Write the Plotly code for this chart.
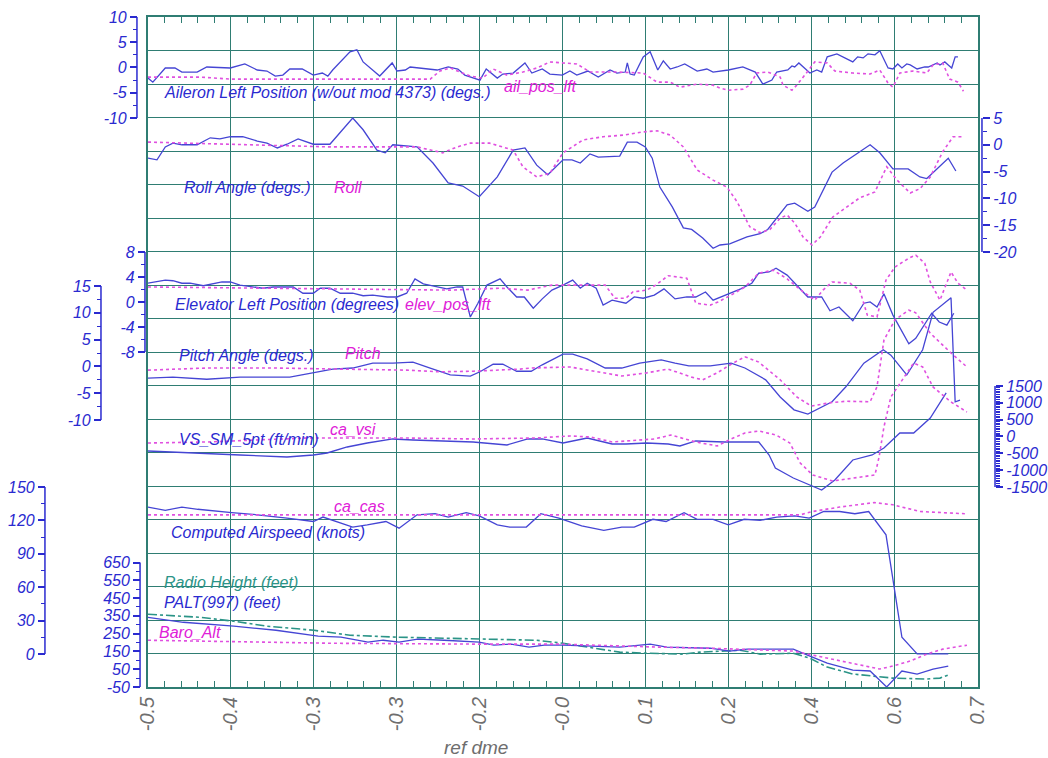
import plotly.graph_objects as go

FONT = "Arial, Liberation Sans, sans-serif"
BLUE = "#4545d4"
PINK = "#e050e0"
TEAL = "#2b9487"
AXIS_BLUE = "#2a2ad0"
GRID = "#2f7d73"

# x axis: ref dme (tick text as printed on the chart)
x_ticks = [-0.5, -0.38, -0.26, -0.14, -0.02, 0.10, 0.22, 0.34, 0.46, 0.58, 0.70]
x_labels = ["-0.5", "-0.4", "-0.3", "-0.3", "-0.2", "-0.0", "0.1", "0.2", "0.4", "0.6", "0.7"]

# (ref dme, value) pairs
aileron_left = [(-0.500, -2.1), (-0.493, -2.9), (-0.475, -0.1), (-0.461, -0.1), (-0.451, -0.9), (-0.429, -0.9),
                (-0.415, 0.1), (-0.381, -0.1), (-0.360, 0.7), (-0.342, -0.5), (-0.328, -0.7), (-0.316, -1.7),
                (-0.305, -1.5), (-0.295, -0.3), (-0.277, -0.3), (-0.261, -1.5), (-0.248, -1.1), (-0.240, -1.7),
                (-0.233, -0.5), (-0.208, 3.1), (-0.198, 3.5), (-0.189, 1.1), (-0.165, -1.7), (-0.147, 0.9),
                (-0.140, -0.7), (-0.128, -0.5), (-0.121, 0.1), (-0.104, -0.1), (-0.082, -0.5), (-0.066, 0.1),
                (-0.052, -0.3), (-0.042, -1.5), (-0.020, -2.5), (-0.011, -0.3), (0.005, -2.1), (0.013, -1.3),
                (0.028, -1.1), (0.045, 0.9), (0.055, -1.1), (0.070, -0.3), (0.081, -1.3), (0.099, -1.5),
                (0.110, -0.7), (0.120, -1.5), (0.136, -0.7), (0.151, -1.9), (0.168, -0.5), (0.178, -1.1),
                (0.190, -0.9), (0.193, 0.9), (0.197, -1.3), (0.203, -1.5), (0.216, 2.1), (0.226, 3.1),
                (0.237, -0.5), (0.245, 1.3), (0.255, -0.3), (0.265, 0.1), (0.276, 0.7), (0.294, -0.7),
                (0.308, -0.3), (0.317, -0.9), (0.339, -0.5), (0.360, 0.1), (0.378, -0.9), (0.389, -3.3),
                (0.402, -2.5), (0.409, -0.9), (0.425, -0.5), (0.431, 0.3), (0.435, 0.1), (0.441, 0.9),
                (0.457, -1.1), (0.467, -0.5), (0.474, -0.9), (0.482, 2.1), (0.496, 2.7), (0.519, 1.1),
                (0.526, 2.1), (0.534, 1.9), (0.541, 2.7), (0.551, 2.5), (0.558, 3.3), (0.570, -0.1),
                (0.577, -0.3), (0.584, 0.7), (0.590, -0.1), (0.597, 0.7), (0.602, 0.5), (0.612, -0.3),
                (0.623, 0.1), (0.628, 0.1), (0.641, 0.9), (0.645, 0.5), (0.652, 1.1), (0.657, 0.5),
                (0.662, -0.1), (0.667, 2.1), (0.671, 2.1)]
ail_pos_lft = [(-0.500, -1.9), (-0.425, -1.9), (-0.381, -2.3), (-0.208, -2.3), (-0.092, -2.3), (-0.078, -0.7),
               (-0.063, -0.1), (-0.049, -0.9), (-0.034, -1.7), (-0.016, -2.1), (-0.001, -0.3), (0.019, -1.5),
               (0.042, -0.9), (0.062, -0.1), (0.081, 1.1), (0.100, 0.9), (0.120, 0.7), (0.139, -0.9),
               (0.178, -0.9), (0.216, -1.1), (0.236, -2.9), (0.255, -2.9), (0.269, -3.9), (0.294, -3.3),
               (0.317, -3.5), (0.327, -4.1), (0.339, -4.5), (0.360, -4.3), (0.370, -3.5), (0.380, -1.1),
               (0.396, -0.9), (0.414, -1.9), (0.418, -3.5), (0.431, -4.5), (0.438, -3.5), (0.453, -0.9),
               (0.464, 1.1), (0.482, 0.9), (0.493, -0.7), (0.519, -1.1), (0.544, -1.3), (0.558, -0.5),
               (0.570, -3.1), (0.577, -3.9), (0.587, -1.1), (0.606, -0.7), (0.626, -1.1), (0.635, 0.5),
               (0.649, 0.9), (0.659, -2.3), (0.671, -2.9), (0.679, -4.7)]

roll_angle = [(-0.500, -2.5), (-0.487, -2.8), (-0.475, -0.4), (-0.464, 0.3), (-0.451, 0.0), (-0.429, 0.0),
              (-0.410, 1.3), (-0.396, 1.1), (-0.381, 1.5), (-0.363, 1.5), (-0.342, 0.7), (-0.328, 0.3),
              (-0.313, -0.6), (-0.299, 0.1), (-0.283, 1.1), (-0.261, 0.1), (-0.237, 0.1), (-0.204, 5.0),
              (-0.189, 2.8), (-0.169, -1.0), (-0.157, -1.5), (-0.146, 0.0), (-0.111, -0.4), (-0.088, -3.4),
              (-0.066, -7.1), (-0.045, -7.7), (-0.021, -9.7), (0.005, -6.0), (0.028, -1.0), (0.045, -0.6),
              (0.062, -3.8), (0.078, -5.6), (0.100, -2.8), (0.113, -2.8), (0.125, -3.4), (0.139, -1.7),
              (0.151, -2.3), (0.182, -2.1), (0.193, 0.5), (0.207, 0.5), (0.219, -0.4), (0.229, -2.5),
              (0.240, -7.9), (0.258, -11.6), (0.274, -15.5), (0.286, -15.8), (0.302, -17.4), (0.317, -19.3),
              (0.327, -18.7), (0.341, -18.5), (0.366, -17.2), (0.385, -16.6), (0.396, -15.8), (0.409, -13.7),
              (0.424, -11.2), (0.435, -10.9), (0.454, -12.4), (0.464, -11.6), (0.476, -8.4), (0.489, -5.1),
              (0.505, -3.4), (0.525, -1.7), (0.544, 0.0), (0.558, -1.5), (0.577, -4.5), (0.599, -4.5),
              (0.616, -6.0), (0.626, -6.3), (0.642, -4.3), (0.657, -2.5), (0.668, -4.9)]
roll = [(-0.500, 0.5), (-0.237, -0.4), (-0.111, -0.4), (-0.074, -1.5), (-0.053, -0.4), (-0.034, 0.3),
        (-0.006, 0.3), (0.013, -0.4), (0.028, -1.0), (0.042, -4.1), (0.062, -6.0), (0.081, -5.3),
        (0.100, -1.5), (0.129, 0.9), (0.158, 1.5), (0.187, 1.8), (0.216, 2.4), (0.236, 2.6),
        (0.255, 1.8), (0.274, -0.4), (0.294, -4.7), (0.317, -6.6), (0.337, -7.9), (0.352, -10.7),
        (0.370, -15.3), (0.385, -16.4), (0.399, -15.8), (0.414, -13.7), (0.424, -13.1), (0.435, -14.6),
        (0.447, -17.2), (0.460, -18.7), (0.472, -17.2), (0.490, -13.5), (0.511, -11.6), (0.529, -9.9),
        (0.551, -8.8), (0.561, -6.0), (0.568, -4.1), (0.583, -6.6), (0.602, -9.0), (0.616, -8.2),
        (0.631, -6.0), (0.649, -1.3), (0.664, 1.5), (0.679, 1.5)]

elevator_left = [(-0.500, 3.0), (-0.475, 3.5), (-0.464, 3.4), (-0.451, 3.0), (-0.439, 3.0), (-0.420, 2.6),
                 (-0.393, 3.2), (-0.381, 3.2), (-0.367, 2.7), (-0.334, 2.2), (-0.319, 2.4), (-0.290, 2.4),
                 (-0.276, 1.4), (-0.261, 1.4), (-0.251, 2.2), (-0.237, 2.2), (-0.222, 1.4), (-0.204, 1.4),
                 (-0.189, 1.0), (-0.175, 1.1), (-0.154, 0.8), (-0.140, 0.8), (-0.126, 1.4), (-0.114, 3.7),
                 (-0.102, 2.9), (-0.082, 2.4), (-0.068, 2.1), (-0.053, 2.4), (-0.045, 2.4), (-0.034, -2.4),
                 (-0.023, -0.2), (-0.010, 2.7), (0.009, 3.7), (0.019, 2.4), (0.033, 0.8), (0.044, 0.8),
                 (0.057, -1.0), (0.070, 0.5), (0.084, 1.9), (0.100, 2.7), (0.114, 3.5), (0.125, 2.2),
                 (0.135, 3.0), (0.148, 2.2), (0.158, -0.5), (0.171, 0.3), (0.191, -0.2), (0.203, 0.8),
                 (0.216, 0.6), (0.232, 1.1), (0.246, 2.1), (0.262, 0.5), (0.279, 0.8), (0.292, 0.8),
                 (0.306, 1.6), (0.317, 0.3), (0.340, 1.4), (0.357, 2.1), (0.373, 3.0), (0.383, 4.6),
                 (0.398, 4.8), (0.408, 5.4), (0.424, 4.3), (0.435, 3.0), (0.454, 0.8), (0.474, 0.8),
                 (0.486, -1.4), (0.499, -0.8), (0.519, -3.0), (0.535, -0.2), (0.544, 0.0), (0.554, -0.8),
                 (0.564, 1.3), (0.577, -2.1), (0.600, -6.7), (0.610, -5.8), (0.633, -1.8), (0.644, -3.2),
                 (0.655, -3.7), (0.665, -1.8)]
elev_pos_lft = [(-0.500, 2.4), (-0.063, 1.9), (0.009, 2.2), (0.049, 1.9), (0.084, 2.7), (0.161, 2.7),
                (0.175, 0.6), (0.191, 0.6), (0.201, 1.6), (0.221, 1.9), (0.234, 2.7), (0.252, 4.2),
                (0.279, 3.8), (0.292, -0.2), (0.313, -0.5), (0.324, 0.0), (0.343, 1.1), (0.363, 2.4),
                (0.383, 4.6), (0.404, 5.1), (0.424, 3.7), (0.444, 1.9), (0.464, 0.3), (0.476, 1.9),
                (0.489, 3.2), (0.515, 3.0), (0.529, 1.9), (0.540, -2.1), (0.554, -2.4), (0.567, 3.5),
                (0.580, 5.6), (0.600, 7.0), (0.610, 7.5), (0.623, 6.2), (0.631, 3.2), (0.645, 0.3),
                (0.661, 4.8), (0.671, 3.0), (0.684, 1.9)]

pitch_angle = [(-0.500, -2.2), (-0.464, -2.0), (-0.415, -2.4), (-0.367, -2.0), (-0.295, -2.0), (-0.261, -1.2),
               (-0.233, -0.5), (-0.204, -0.3), (-0.175, 0.6), (-0.146, 0.6), (-0.117, 0.8), (-0.092, -0.3),
               (-0.063, -1.6), (-0.034, -1.8), (-0.020, -1.0), (-0.001, 0.4), (0.013, 0.4), (0.033, -0.9),
               (0.054, -0.9), (0.070, 0.3), (0.100, 2.3), (0.114, 2.3), (0.135, 1.4), (0.161, -0.3),
               (0.185, -0.3), (0.211, 0.6), (0.242, 1.2), (0.262, 0.6), (0.282, 0.1), (0.313, 0.1),
               (0.343, 0.6), (0.363, -0.3), (0.393, -2.5), (0.414, -5.7), (0.434, -8.1), (0.454, -8.9),
               (0.489, -6.6), (0.509, -3.8), (0.535, 0.6), (0.563, 3.1), (0.574, 2.1), (0.597, -1.6),
               (0.620, 3.1), (0.635, 10.1), (0.661, 12.8), (0.667, -6.6), (0.674, -6.3)]
pitch = [(-0.500, -0.7), (-0.415, -0.3), (-0.319, -0.3), (-0.222, -0.5), (-0.126, -0.7), (-0.078, -1.0),
         (-0.030, -0.9), (0.038, -0.5), (0.054, -0.3), (0.110, -0.1), (0.151, -1.0), (0.185, -1.8),
         (0.221, -1.2), (0.252, -0.5), (0.286, -2.0), (0.302, -2.5), (0.323, -1.2), (0.343, 0.4),
         (0.363, 1.8), (0.383, 0.8), (0.414, -2.5), (0.438, -5.7), (0.459, -7.4), (0.485, -6.8),
         (0.509, -6.5), (0.544, -6.6), (0.554, -3.8), (0.564, 4.9), (0.580, 8.7), (0.600, 10.5),
         (0.610, 10.0), (0.631, 6.2), (0.661, 2.5), (0.684, -0.1)]

vs_sm_5pt = [(-0.500, -431), (-0.464, -460), (-0.415, -490), (-0.367, -549), (-0.299, -609), (-0.261, -549),
             (-0.241, -490), (-0.212, -312), (-0.183, -193), (-0.146, -74), (-0.117, -104), (-0.078, -134),
             (-0.030, -163), (0.019, -252), (0.038, -134), (0.049, -74), (0.070, -74), (0.100, -193),
             (0.135, -45), (0.171, -223), (0.191, -223), (0.221, -193), (0.252, -223), (0.269, -282),
             (0.292, -134), (0.333, -163), (0.383, -163), (0.398, -549), (0.407, -936), (0.433, -1233),
             (0.474, -1589), (0.493, -1292), (0.519, -698), (0.547, -549), (0.564, -342), (0.587, 104),
             (0.607, 104), (0.631, 549), (0.654, 1292)]
ca_vsi = [(-0.500, -193), (-0.415, -163), (-0.270, -45), (-0.126, -45), (-0.030, -74), (0.060, -45),
          (0.110, 15), (0.140, -15), (0.171, -163), (0.232, -74), (0.256, 45), (0.292, -163),
          (0.323, -282), (0.343, -74), (0.363, 104), (0.383, 163), (0.408, 45), (0.428, -193),
          (0.443, -787), (0.461, -1143), (0.490, -1322), (0.551, -1143), (0.557, -609), (0.564, 282),
          (0.574, 1173), (0.590, 1678), (0.607, 2183), (0.620, 2064), (0.635, 1470), (0.661, 1025),
          (0.684, 728)]

computed_airspeed = [(-0.500, 132), (-0.475, 129), (-0.451, 132), (-0.428, 130), (-0.379, 127), (-0.342, 125),
                     (-0.299, 122), (-0.261, 119), (-0.247, 123), (-0.227, 119), (-0.204, 114), (-0.183, 116),
                     (-0.156, 119), (-0.137, 113), (-0.111, 125), (-0.085, 126), (-0.066, 123), (-0.040, 127),
                     (-0.021, 124), (0.005, 116), (0.023, 114), (0.047, 114), (0.068, 126), (0.094, 122),
                     (0.127, 115), (0.159, 111), (0.185, 114), (0.203, 114), (0.230, 121), (0.249, 119),
                     (0.275, 127), (0.294, 121), (0.317, 121), (0.339, 116), (0.362, 121), (0.385, 120),
                     (0.409, 123), (0.435, 124), (0.456, 122), (0.477, 128), (0.500, 128), (0.522, 126),
                     (0.542, 128), (0.567, 107), (0.579, 61), (0.590, 15), (0.612, 0), (0.657, 0)]
ca_cas = [(-0.500, 125), (0.443, 125), (0.461, 128), (0.500, 132), (0.550, 136), (0.577, 134),
          (0.616, 128), (0.645, 127), (0.681, 126)]

radio_height = [(-0.500, 359), (-0.425, 342), (-0.376, 320), (-0.328, 292), (-0.260, 269), (-0.208, 241),
                (-0.137, 230), (-0.016, 219), (0.061, 213), (0.100, 196), (0.182, 146), (0.221, 140),
                (0.272, 135), (0.298, 146), (0.356, 157), (0.385, 135), (0.433, 140), (0.457, 112),
                (0.482, 62), (0.519, 23), (0.544, 12), (0.577, 0), (0.626, -5), (0.645, 0), (0.657, 17)]
palt_997 = [(-0.500, 342), (-0.449, 314), (-0.376, 292), (-0.315, 269), (-0.254, 236), (-0.221, 230),
            (-0.182, 202), (-0.160, 213), (-0.137, 202), (-0.110, 219), (-0.072, 213), (-0.021, 202),
            (0.000, 185), (0.025, 191), (0.051, 174), (0.073, 185), (0.100, 185), (0.143, 180),
            (0.182, 174), (0.226, 191), (0.250, 174), (0.313, 168), (0.341, 152), (0.366, 163),
            (0.433, 163), (0.457, 124), (0.482, 84), (0.519, 45), (0.544, 40), (0.568, -50),
            (0.590, 40), (0.612, 23), (0.635, 51), (0.657, 68)]
baro_alt = [(-0.500, 213), (-0.237, 196), (-0.016, 191), (0.096, 191), (0.240, 174), (0.313, 168),
            (0.433, 152), (0.461, 129), (0.505, 96), (0.558, 51), (0.577, 68), (0.602, 96),
            (0.626, 135), (0.649, 163), (0.684, 185)]


def band_range(lo, hi, f0, f1):
    # the labelled part of each axis covers only band [f0, f1] of the plot height
    span = (hi - lo) / (f1 - f0)
    return [lo - f0 * span, hi + (1 - f1) * span]


# name, lo, hi, band bottom, band top, x position, side, major step, minor step
axes = [
    ("y2", -10, 10, 0.8493, 1.0, 0.1235, "left", 5, 2.5),
    ("y3", -20, 5, 0.6493, 0.8493, 0.9455, "right", 5, 2.5),
    ("y4", -8, 8, 0.5, 0.6493, 0.1313, "left", 4, 2),
    ("y5", -10, 15, 0.3985, 0.5985, 0.0885, "left", 5, 2.5),
    ("y6", -1500, 1500, 0.2985, 0.4493, 0.9582, "right", 500, 50),
    ("y7", 0, 150, 0.0493, 0.2985, 0.0340, "left", 30, 15),
    ("y8", -50, 650, 0.0, 0.1858, 0.1265, "left", 100, 50),
]

series = [
    (aileron_left, "y2", BLUE, "solid"), (ail_pos_lft, "y2", PINK, "dot"),
    (roll_angle, "y3", BLUE, "solid"), (roll, "y3", PINK, "dot"),
    (elevator_left, "y4", BLUE, "solid"), (elev_pos_lft, "y4", PINK, "dot"),
    (pitch_angle, "y5", BLUE, "solid"), (pitch, "y5", PINK, "dot"),
    (vs_sm_5pt, "y6", BLUE, "solid"), (ca_vsi, "y6", PINK, "dot"),
    (computed_airspeed, "y7", BLUE, "solid"), (ca_cas, "y7", PINK, "dot"),
    (radio_height, "y8", TEAL, "dashdot"), (palt_997, "y8", BLUE, "solid"), (baro_alt, "y8", PINK, "dot"),
]

fig = go.Figure()
# empty trace so the grid axis 'y' gets its own subplot (the others overlay it)
fig.add_trace(go.Scatter(x=[None], y=[None], xaxis="x", yaxis="y", mode="lines", hoverinfo="skip"))
for pts, ax, color, dash in series:
    xs, ys = zip(*pts)
    fig.add_trace(go.Scatter(x=xs, y=ys, xaxis="x", yaxis=ax, mode="lines", hoverinfo="skip",
                             line=dict(color=color, width=1.3 if dash == "solid" else 1.6, dash=dash)))

layout_axes = {}
shapes = []
for name, lo, hi, f0, f1, pos, side, major, minor in axes:
    n = int(round((hi - lo) / major))
    vals = [lo + i * major for i in range(n + 1)]
    m = int(round((hi - lo) / minor))
    minors = [lo + i * minor for i in range(m + 1)]
    minors = [v for v in minors if abs(((v - lo) / major) - round((v - lo) / major)) > 1e-6]
    layout_axes["yaxis" + name[1:]] = dict(
        overlaying="y", anchor="free", position=pos, side=side,
        range=band_range(lo, hi, f0, f1),
        tickmode="array", tickvals=vals, ticktext=[f"{v:g}" for v in vals],
        ticks="outside", ticklen=7, tickwidth=1.5, tickcolor=AXIS_BLUE,
        tickfont=dict(family=FONT, size=16, color=AXIS_BLUE, style="italic"),
        minor=dict(tickmode="array", tickvals=minors, ticks="outside", ticklen=4,
                   tickwidth=1, tickcolor=AXIS_BLUE),
        showgrid=False, zeroline=False, showline=False,
    )
    shapes.append(dict(type="line", xref="paper", yref=name, x0=pos, x1=pos, y0=lo, y1=hi,
                       line=dict(color=AXIS_BLUE, width=1.5)))

labels = [
    ("Aileron Left Position (w/out mod 4373) (degs.)", 0.1478, 0.888, AXIS_BLUE),
    ("ail_pos_lft", 0.4786, 0.897, "#e020d8"),
    ("Roll Angle (degs.)", 0.1673, 0.746, AXIS_BLUE),
    ("Roll", 0.3132, 0.746, "#e020d8"),
    ("Elevator Left Position (degrees)", 0.1586, 0.5716, AXIS_BLUE),
    ("elev_pos_lft", 0.3823, 0.5716, "#e020d8"),
    ("Pitch Angle (degs.)", 0.1625, 0.4955, AXIS_BLUE),
    ("Pitch", 0.3239, 0.4985, "#e020d8"),
    ("VS_SM_5pt (ft/min)", 0.1625, 0.3701, AXIS_BLUE),
    ("ca_vsi", 0.3094, 0.385, "#e020d8"),
    ("ca_cas", 0.3132, 0.2701, "#e020d8"),
    ("Computed Airspeed (knots)", 0.1547, 0.2299, AXIS_BLUE),
    ("Radio Height (feet)", 0.1479, 0.1567, TEAL),
    ("PALT(997) (feet)", 0.1479, 0.1254, AXIS_BLUE),
    ("Baro_Alt", 0.143, 0.0806, "#e020d8"),
]
annotations = [dict(text=t, x=x, y=y, xref="paper", yref="paper", xanchor="left", yanchor="middle",
                    showarrow=False, font=dict(family=FONT, size=16, color=c, style="italic"))
               for t, x, y, c in labels]
annotations.append(dict(text="ref dme", x=0.453, y=-0.0896, xref="paper", yref="paper",
                        xanchor="center", yanchor="middle", showarrow=False,
                        font=dict(family=FONT, size=19, color="#6e6e6e", style="italic")))

fig.update_layout(
    template="none",
    width=1048, height=758, autosize=False,
    margin=dict(l=10, r=10, t=17, b=71),
    paper_bgcolor="white", plot_bgcolor="white",
    showlegend=False,
    xaxis=dict(domain=[0.13424, 0.94163], range=[-0.5, 0.7], anchor="y",
               tickmode="array", tickvals=x_ticks, ticktext=x_labels, tickangle=-90,
               tickfont=dict(family=FONT, size=20, color="#6e6e6e", style="italic"),
               ticks="inside", ticklen=6, tickcolor=GRID,
               minor=dict(tickmode="linear", tick0=-0.5, dtick=0.024, ticks="inside", ticklen=4,
                          tickcolor=GRID),
               showgrid=True, gridcolor=GRID, gridwidth=1.3, zeroline=False,
               showline=True, linecolor=GRID, linewidth=1.5, mirror="allticks"),
    yaxis=dict(domain=[0, 1], range=[0, 20], tickmode="linear", tick0=0, dtick=1, anchor="x",
               showticklabels=False, ticks="", showgrid=True, gridcolor=GRID, gridwidth=1.3,
               zeroline=False, showline=True, linecolor=GRID, linewidth=1.5, mirror=True),
    shapes=shapes,
    annotations=annotations,
    **layout_axes,
)

# the page is photographed at exactly the figure size, so drop the default body margin
fig.write_html("out.html", config={"displayModeBar": False},
               post_script="document.body.style.margin='0';")
